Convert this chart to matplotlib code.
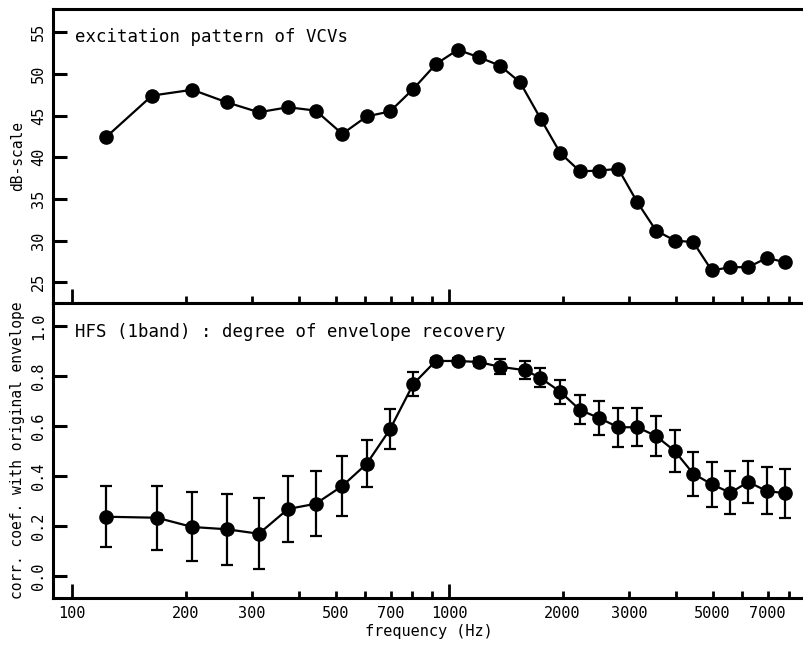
import matplotlib
matplotlib.use("Agg")
import matplotlib.pyplot as plt
from matplotlib.ticker import FixedLocator, NullFormatter

# channel centre frequencies (Hz)
freq_top = [123, 163, 208.5, 257, 313, 374, 443, 521, 605, 697.5,
            804, 924, 1055, 1201, 1365, 1543, 1751, 1973, 2226, 2500,
            2812, 3158, 3540, 3969, 4446, 4977, 5574, 6222, 6961, 7799]
freq_bot = [123, 168, 208.5, 257, 313, 374, 443, 521, 605, 697.5,
            804, 922, 1055, 1198, 1362, 1591, 1745, 1973, 2226, 2500,
            2812, 3158, 3540, 3969, 4446, 4977, 5574, 6222, 6961, 7799]

# excitation pattern (dB)
excitation = [42.4, 47.4, 48.1, 46.6, 45.4, 46.0, 45.6, 42.8, 44.9, 45.5,
              48.2, 51.2, 52.9, 52.0, 51.0, 49.0, 44.6, 40.5, 38.3, 38.4,
              38.6, 34.6, 31.2, 30.0, 29.8, 26.4, 26.8, 26.8, 27.9, 27.4]

# correlation with original envelope, mean and error half-width
corr_mean = [0.237, 0.233, 0.196, 0.187, 0.169, 0.268, 0.289, 0.360, 0.449, 0.587,
             0.768, 0.860, 0.860, 0.856, 0.837, 0.823, 0.793, 0.737, 0.664, 0.632,
             0.595, 0.595, 0.560, 0.500, 0.409, 0.367, 0.333, 0.376, 0.340, 0.331]
corr_err = [0.122, 0.128, 0.138, 0.142, 0.142, 0.131, 0.130, 0.120, 0.093, 0.080,
            0.047, 0.012, 0.012, 0.016, 0.031, 0.035, 0.039, 0.048, 0.058, 0.067,
            0.078, 0.076, 0.080, 0.083, 0.088, 0.090, 0.085, 0.084, 0.094, 0.098]

labeled_ticks = [100, 200, 300, 500, 700, 1000, 2000, 3000, 5000, 7000]
other_ticks = [400, 600, 800, 900, 4000, 6000, 8000]
long_ticks = [100, 1000, 8000]
db_ticks = [25, 30, 35, 40, 45, 50, 55]
corr_ticks = [0.0, 0.2, 0.4, 0.6, 0.8, 1.0]

plt.rcParams['font.family'] = ['DejaVu Sans Mono']

fig = plt.figure(figsize=(8.04, 6.46), dpi=100)
ax1 = fig.add_axes([0.0659, 0.5310, 0.9341, 0.4551])
ax2 = fig.add_axes([0.0659, 0.0743, 0.9341, 0.4567])


def style_axis(ax, show_labels):
    ax.set_xscale('log')
    ax.set_xlim(89, 8743)
    for side in ['left', 'top', 'bottom']:
        ax.spines[side].set_linewidth(2.2)
    ax.spines['right'].set_visible(False)
    ax.xaxis.set_major_locator(FixedLocator(labeled_ticks))
    ax.xaxis.set_minor_locator(FixedLocator(other_ticks))
    ax.xaxis.set_minor_formatter(NullFormatter())
    if show_labels:
        ax.set_xticklabels([str(t) for t in labeled_ticks], fontsize=11)
    else:
        ax.set_xticklabels([])
    ax.tick_params(axis='x', which='both', direction='in', length=5, width=2,
                   top=False, pad=6)
    ax.tick_params(axis='y', which='major', direction='in', length=10, width=2.2,
                   right=False, labelsize=11, pad=5)
    for t in ax.xaxis.get_major_ticks() + ax.xaxis.get_minor_ticks():
        if round(t.get_loc()) in long_ticks:
            t.tick1line.set_markersize(10)
    for lab in ax.get_yticklabels():
        lab.set_rotation(90)
        lab.set_va('center')


# upper panel: excitation pattern
ax1.plot(freq_top, excitation, '-o', color='black', lw=1.6, ms=9.5)
ax1.set_ylim(22.5, 57.8)
ax1.set_yticks(db_ticks)
ax1.set_yticklabels([str(t) for t in db_ticks])
style_axis(ax1, False)
ax1.set_ylabel('dB-scale', fontsize=10.5, labelpad=4)
ax1.text(0.029, 0.905, 'excitation pattern of VCVs', transform=ax1.transAxes,
         fontsize=12.5, va='center', ha='left')

# lower panel: envelope recovery
ax2.errorbar(freq_bot, corr_mean, yerr=corr_err, fmt='-o', color='black',
             lw=1.6, ms=9.5, elinewidth=1.6, capsize=4.5, capthick=1.6)
ax2.set_ylim(-0.088, 1.092)
ax2.set_yticks(corr_ticks)
ax2.set_yticklabels(['%.1f' % t for t in corr_ticks])
style_axis(ax2, True)
ax2.set_ylabel('corr. coef. with original envelope', fontsize=10.5, labelpad=4)
ax2.set_xlabel('frequency (Hz)', fontsize=11, labelpad=2)
ax2.text(0.029, 0.902, 'HFS (1band) : degree of envelope recovery',
         transform=ax2.transAxes, fontsize=12.5, va='center', ha='left')

fig.savefig('out.png', dpi=100)
